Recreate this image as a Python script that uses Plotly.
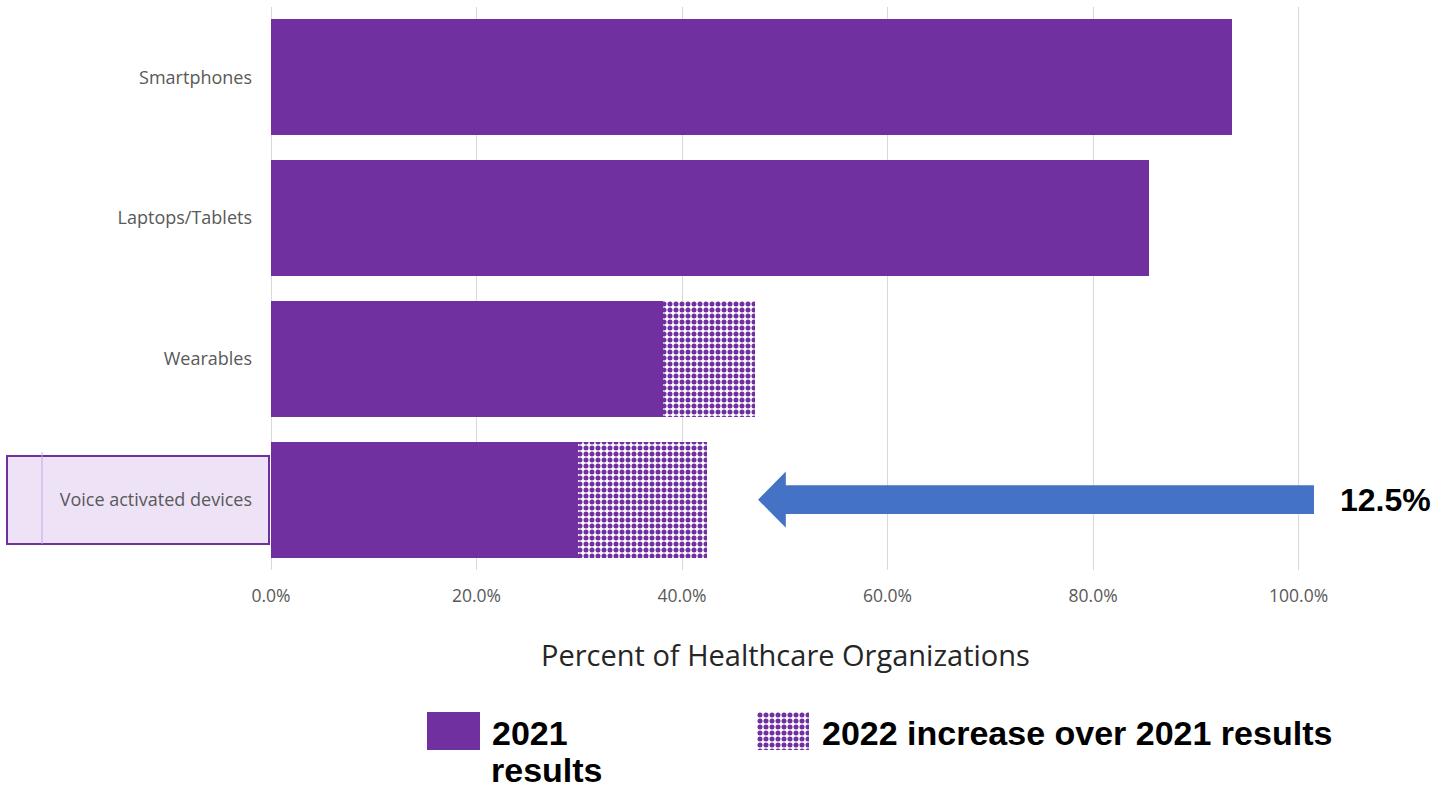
import plotly.graph_objects as go

# ---- data ----
categories = ["Smartphones", "Laptops/Tablets", "Wearables", "Voice activated devices"]
results_2021 = [93.5, 85.4, 38.1, 29.9]
increase_2022 = [0, 0, 9.0, 12.5]
x_ticks = [0, 20, 40, 60, 80, 100]
highlight_value = 12.5

W, H = 1448, 789
PURPLE = "#7030A0"
BLUE = "#4472C4"


def px(x):
    return x / W


def py(y):
    return 1 - y / H


pattern = dict(shape=".", fgcolor=PURPLE, bgcolor="white", size=6, solidity=0.55, fillmode="replace")

fig = go.Figure()
fig.add_trace(go.Bar(y=categories, x=results_2021, orientation="h", name="2021 results",
                     marker=dict(color=PURPLE, line=dict(width=0)), xaxis="x", yaxis="y"))
fig.add_trace(go.Bar(y=categories, x=increase_2022, orientation="h", name="2022 increase over 2021 results",
                     marker=dict(color="white", pattern=pattern, line=dict(width=0)), xaxis="x", yaxis="y"))

# legend swatches (each in its own tiny subplot)
fig.add_trace(go.Bar(x=[0], y=[1], width=[1], marker=dict(color=PURPLE, line=dict(width=0)),
                     xaxis="x2", yaxis="y2", showlegend=False))
fig.add_trace(go.Bar(x=[0], y=[1], width=[1], marker=dict(color="white", pattern=pattern, line=dict(width=0)),
                     xaxis="x3", yaxis="y3", showlegend=False))

cat_font = dict(family="Open Sans, sans-serif", size=18, color="#595959")
tick_font = dict(family="Open Sans, sans-serif", size=17.5, color="#595959")

fig.update_layout(
    width=W, height=H,
    margin=dict(l=0, r=0, t=0, b=0, autoexpand=False),
    paper_bgcolor="white", plot_bgcolor="white",
    barmode="stack", bargap=0.176,
    showlegend=False,
    hovermode=False,
    xaxis=dict(domain=[px(271), px(1314)], range=[0, 101.5], tickvals=x_ticks, automargin=False,
               ticktext=[f"{v:.1f}%" for v in x_ticks], showgrid=True, gridcolor="#D9D9D9", gridwidth=1.3,
               zeroline=True, zerolinecolor="#D9D9D9", zerolinewidth=1.3, showline=False,
               tickfont=tick_font, ticks="", ticklabelstandoff=13, anchor="y"),
    yaxis=dict(domain=[py(570), py(7)], categoryorder="array", categoryarray=categories, automargin=False,
               range=[3.5, -0.5], showgrid=False, zeroline=False, showline=False, ticks="",
               tickfont=cat_font, ticklabelstandoff=18, anchor="x"),
    xaxis2=dict(domain=[px(427), px(480)], range=[-0.5, 0.5], visible=False, anchor="y2", automargin=False),
    yaxis2=dict(domain=[py(750), py(712)], range=[0, 1], visible=False, anchor="x2", automargin=False),
    xaxis3=dict(domain=[px(757), px(809)], range=[-0.5, 0.5], visible=False, anchor="y3", automargin=False),
    yaxis3=dict(domain=[py(750), py(712)], range=[0, 1], visible=False, anchor="x3", automargin=False),
)

# highlighted label box behind "Voice activated devices"
fig.add_shape(type="rect", xref="paper", yref="paper", x0=px(7), x1=px(269), y0=py(544), y1=py(456),
              fillcolor="#EEE2F6", line=dict(color=PURPLE, width=2), layer="below")
fig.add_shape(type="line", xref="paper", yref="paper", x0=px(42), x1=px(42), y0=py(544), y1=py(452),
              line=dict(color="#C2A8E6", width=1), layer="below")

# arrow pointing to voice-activated bar
vi = categories.index("Voice activated devices")
tip = 47.4
head = 50.1
end = 101.5
sh, hh = 0.103, 0.2
path = (f"M {tip},{vi} L {head},{vi - hh} L {head},{vi - sh} L {end},{vi - sh} "
        f"L {end},{vi + sh} L {head},{vi + sh} L {head},{vi + hh} Z")
fig.add_shape(type="path", xref="x", yref="y", path=path, fillcolor=BLUE, line=dict(width=0), layer="above")

fig.add_annotation(xref="paper", yref="paper", x=px(1338), y=py(500), xanchor="left", yanchor="middle",
                   text=f"<b>{highlight_value}%</b>", showarrow=False,
                   font=dict(family="Liberation Sans, Arial, sans-serif", size=32, color="black"))

# axis title
fig.add_annotation(xref="paper", yref="paper", x=px(785), y=py(654), xanchor="center", yanchor="middle",
                   text="Percent of Healthcare Organizations", showarrow=False,
                   font=dict(family="Open Sans, sans-serif", size=29, color="#262626"))

# legend text
leg_font = dict(family="Liberation Sans, Arial, sans-serif", size=34, color="black")
fig.add_annotation(xref="paper", yref="paper", x=px(490), y=py(712), xanchor="left", yanchor="top",
                   align="left", text="<b>2021</b>", showarrow=False, font=leg_font)
fig.add_annotation(xref="paper", yref="paper", x=px(490), y=py(750), xanchor="left", yanchor="top",
                   borderpad=0, align="left", text="<b>results</b>", showarrow=False, font=leg_font)
fig.add_annotation(xref="paper", yref="paper", x=px(820), y=py(712), xanchor="left", yanchor="top",
                   align="left", text="<b>2022 increase over 2021 results</b>", showarrow=False, font=leg_font)

fig.write_html("out.html", config=dict(displayModeBar=False))
